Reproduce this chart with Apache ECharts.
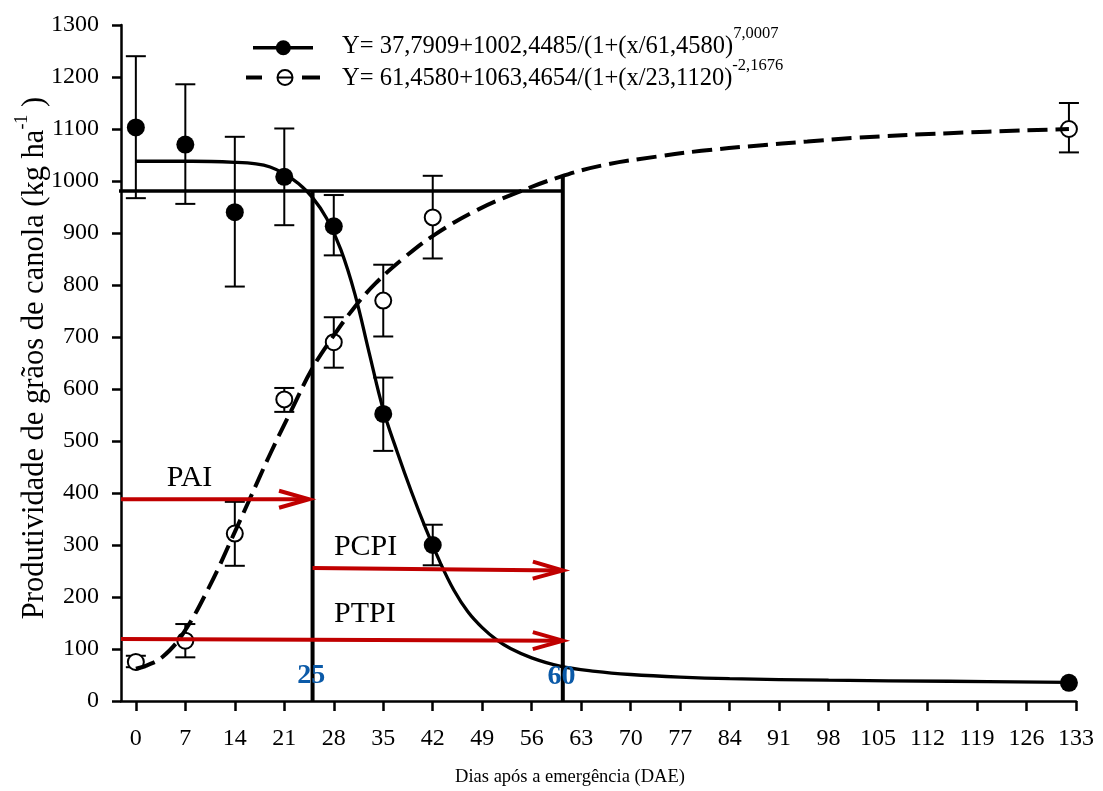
<!DOCTYPE html>
<html><head><meta charset="utf-8">
<script src="https://cdn.jsdelivr.net/npm/echarts@6/dist/echarts.min.js"></script>
<style>html,body{margin:0;padding:0;background:#fff}#c{width:1103px;height:791px}</style>
</head><body><div id="c"></div>
<script>
// ---- data ----
const xTicks = [0,7,14,21,28,35,42,49,56,63,70,77,84,91,98,105,112,119,126,133];
const obsX = [0,7,14,21,28,35,42,132];
// solid series (filled circles)
const solidMean = [1103,1070,940,1008,913,552,300,35];
const solidLow  = [967,956,797,915,857,481,261,null];
const solidHigh = [1240,1186,1085,1101,973,622,339,null];
// dashed series (open circles)
const openMean = [75,116,322,580,690,770,930,1100];
const openLow  = [65,84,260,556,641,701,851,1055];
const openHigh = [87,148,383,602,738,839,1010,1150];
// fitted curves
const solidCurveX = [0,8,14,17,19,21,23,25,27,29,31,33,35,37,39,41,43,45,47,49,51,53,56,60,65,70,77,84,98,115,132];
const solidCurveY = [1038,1038,1036,1033,1027,1014,995,968,928,868,782,670,560,478,402,332,268,213,171,141,118,101,83,67,57,51,46,43,40,38,36];
const dashCurveX = [0,1.5,3.8,6.7,10.4,13.7,16,19,22.1,24.9,27.7,30.8,33.9,38,42.3,48.4,54,60,66,73.7,80,87.8,95,101.8,115,132];
const dashCurveY = [62,68,85,130,220,316,385,475,562,638,697,755,803,853,897,945,978,1008,1030,1047,1058,1068,1076,1083,1092,1100];
// reference lines
const hLineY = 981;
const vLineX = [25, 60.4];
const vLineTop = [981, 1011];
// arrows [x1, y1, x2, y2]
const arrows = [[-2.1,388,24.5,388],[25,256,60.4,251],[-2.1,119,60.4,116]];
// annotations
const annoText = ['PAI','PCPI','PTPI'];
const annoX = [7.6, 32.5, 32.4];
const annoY = [428, 296, 168];
const markText = ['25','60'];
const markX = [24.8, 60.2];
const markY = [48, 46];

const FONT = '"Liberation Serif", "Times New Roman", serif';
const chart = echarts.init(document.getElementById('c'));

const pairs = (xs, ys) => xs.map((x,i)=>[x, ys[i]]);
const errData = (lo, hi) => obsX.map((x,i)=>[x, lo[i], hi[i]]).filter(d=>d[1]!=null);

function errRender(params, api){
  const x = api.value(0), lo = api.value(1), hi = api.value(2);
  const a = api.coord([x, lo]), b = api.coord([x, hi]);
  const w = 10, st = {stroke:'#000', lineWidth:2};
  return {type:'group', children:[
    {type:'line', shape:{x1:a[0],y1:a[1],x2:b[0],y2:b[1]}, style:st},
    {type:'line', shape:{x1:a[0]-w,y1:a[1],x2:a[0]+w,y2:a[1]}, style:st},
    {type:'line', shape:{x1:b[0]-w,y1:b[1],x2:b[0]+w,y2:b[1]}, style:st}
  ]};
}
function arrowRender(params, api){
  const p = api.coord([api.value(0), api.value(1)]);
  const q = api.coord([api.value(2), api.value(3)]);
  const dx = q[0]-p[0], dy = q[1]-p[1], L = Math.hypot(dx,dy);
  const ux = dx/L, uy = dy/L, nx = -uy, ny = ux;
  const back = 30, half = 8.5;
  const st = {stroke:'#c00000', lineWidth:4, fill:null, lineJoin:'miter'};
  return {type:'group', children:[
    {type:'line', shape:{x1:p[0],y1:p[1],x2:q[0]-ux*2,y2:q[1]-uy*2}, style:st},
    {type:'polyline', shape:{points:[[q[0]-ux*back+nx*half, q[1]-uy*back+ny*half],[q[0],q[1]],[q[0]-ux*back-nx*half, q[1]-uy*back-ny*half]]}, style:st}
  ]};
}

const legendRich = {a:{fontFamily:FONT, fontSize:24.5, lineHeight:44, fill:'#000'}, s:{fontFamily:FONT, fontSize:16.5, lineHeight:18, verticalAlign:'top', fill:'#000'}};

const option = {
  animation:false,
  backgroundColor:'#fff',
  grid:{left:121, right:27, top:25, bottom:90, containLabel:false},
  xAxis:{type:'value', min:-2.1, max:133,
    axisLine:{onZero:false, lineStyle:{color:'#000', width:2.5}},
    axisTick:{show:true, length:10, lineStyle:{color:'#000', width:2.5}, customValues:xTicks},
    axisLabel:{color:'#000', fontFamily:FONT, fontSize:24, margin:26, customValues:xTicks, formatter:v=>String(v)},
    splitLine:{show:false}},
  yAxis:{type:'value', min:0, max:1300, interval:100,
    axisLine:{show:true, onZero:false, lineStyle:{color:'#000', width:2.5}},
    axisTick:{show:true, length:9, lineStyle:{color:'#000', width:2.5}},
    axisLabel:{color:'#000', fontFamily:FONT, fontSize:24, margin:22, formatter:v=>String(v)},
    splitLine:{show:false}},
  graphic:[
    // legend
    {type:'line', shape:{x1:253,y1:47.7,x2:313,y2:47.7}, style:{stroke:'#000', lineWidth:3.5}},
    {type:'circle', shape:{cx:283.3, cy:47.7, r:7.5}, style:{fill:'#000'}},
    {type:'line', shape:{x1:246,y1:77.5,x2:262,y2:77.5}, style:{stroke:'#000', lineWidth:4}},
    {type:'line', shape:{x1:302,y1:77.5,x2:320,y2:77.5}, style:{stroke:'#000', lineWidth:4}},
    {type:'circle', shape:{cx:285, cy:77.5, r:7.5}, style:{fill:'#fff', stroke:'#000', lineWidth:2}},
    {type:'line', shape:{x1:277.5,y1:77.5,x2:292.5,y2:77.5}, style:{stroke:'#000', lineWidth:2}},
    {type:'text', x:342, y:47, style:{text:'{a|Y= 37,7909+1002,4485/(1+(x/61,4580)}{s|7,0007}', align:'left', verticalAlign:'middle', fill:'#000', rich:legendRich}},
    {type:'text', x:342, y:79, style:{text:'{a|Y= 61,4580+1063,4654/(1+(x/23,1120)}{s|-2,1676}', align:'left', verticalAlign:'middle', fill:'#000', rich:legendRich}},
    // axis titles
    {type:'text', x:35, y:358, rotation:Math.PI/2, style:{text:'{a|Produtividade de grãos de canola (kg ha}{s|-1}{a| )}', align:'center', verticalAlign:'middle', fill:'#000',
      rich:{a:{fontFamily:FONT, fontSize:30.5, lineHeight:44, fill:'#000'}, s:{fontFamily:FONT, fontSize:18, lineHeight:18, verticalAlign:'top', fill:'#000'}}}},
    {type:'text', x:570, y:777, style:{text:'Dias após a emergência (DAE)', font:'18.5px '+FONT, align:'center', verticalAlign:'middle', fill:'#000'}}
  ],
  series:[
    {type:'custom', name:'errSolid', renderItem:errRender, data:errData(solidLow, solidHigh), z:2, encode:{x:0, y:[1,2]}},
    {type:'custom', name:'errOpen', renderItem:errRender, data:errData(openLow, openHigh), z:2, encode:{x:0, y:[1,2]}},
    {type:'scatter', name:'solidPts', data:pairs(obsX, solidMean), symbol:'circle', symbolSize:18, itemStyle:{color:'#000', opacity:1}, z:3},
    {type:'scatter', name:'openPts', data:pairs(obsX, openMean), symbol:'circle', symbolSize:16, itemStyle:{color:'#fff', borderColor:'#000', borderWidth:2, opacity:1}, z:3},
    {type:'line', name:'solidCurve', data:pairs(solidCurveX, solidCurveY), smooth:0.4, symbol:'none', lineStyle:{color:'#000', width:3.3}, z:4},
    {type:'line', name:'dashCurve', data:pairs(dashCurveX, dashCurveY), smooth:0.4, symbol:'none', lineStyle:{color:'#000', width:4, type:[20,8]}, z:4},
    {type:'line', name:'hLine', data:[[-3.4, hLineY],[vLineX[1], hLineY]], symbol:'none', clip:false, lineStyle:{color:'#000', width:3.5}, z:5},
    {type:'line', name:'v25', data:[[vLineX[0],0],[vLineX[0],vLineTop[0]]], symbol:'none', lineStyle:{color:'#000', width:4}, z:5},
    {type:'line', name:'v60', data:[[vLineX[1],0],[vLineX[1],vLineTop[1]]], symbol:'none', lineStyle:{color:'#000', width:4}, z:5},
    {type:'custom', name:'arrows', renderItem:arrowRender, data:arrows, z:6, clip:false, encode:{x:[0,2], y:[1,3]}},
    {type:'scatter', name:'anno', data:annoText.map((t,i)=>({value:[annoX[i], annoY[i]], name:t})), symbolSize:0, z:7, itemStyle:{opacity:1},
      label:{show:true, position:'inside', formatter:p=>p.name, color:'#000', fontFamily:FONT, fontSize:30}},
    {type:'scatter', name:'marks', data:markText.map((t,i)=>({value:[markX[i], markY[i]], name:t})), symbolSize:0, z:7, itemStyle:{opacity:1},
      label:{show:true, position:'inside', formatter:p=>p.name, color:'#0b5aa8', fontFamily:FONT, fontSize:28, fontWeight:'bold'}}
  ]
};
chart.setOption(option);
</script></body></html>
